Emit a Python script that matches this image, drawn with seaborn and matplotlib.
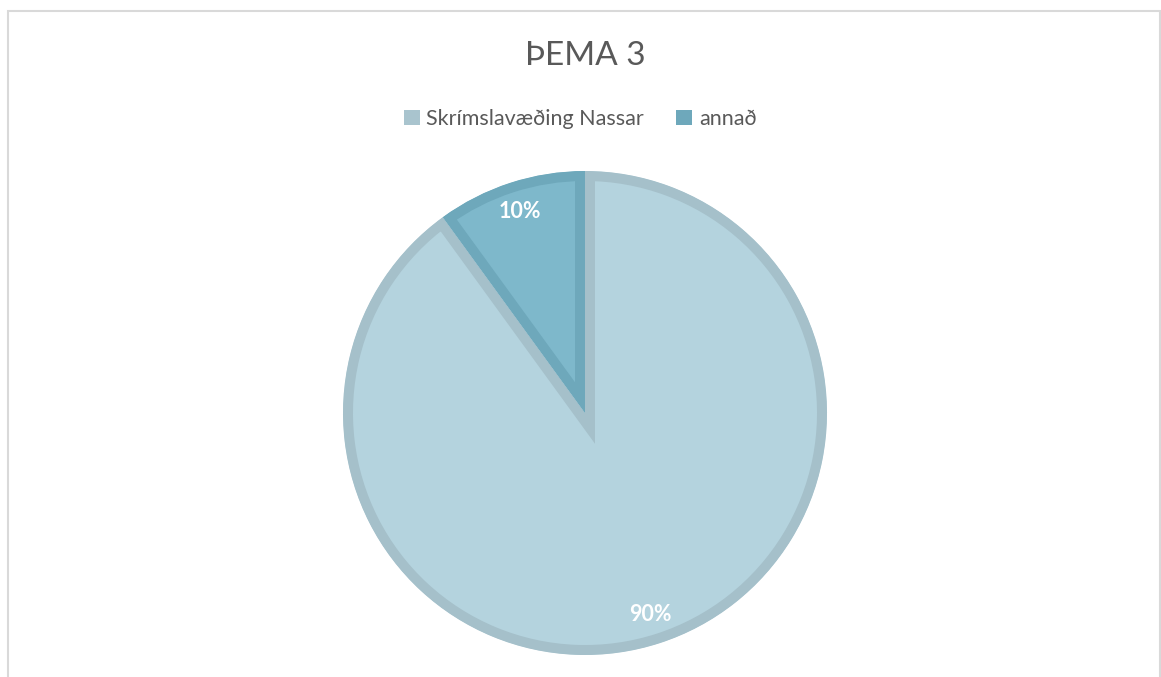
import matplotlib
matplotlib.use("Agg")
import matplotlib.pyplot as plt
import seaborn as sns
from matplotlib.patches import Patch, Rectangle

# ---- data ----
categories = ["Skrímslavæðing Nassar", "annað"]
values = [90, 10]
title = "ÞEMA 3"

fill_colors = ["#B4D3DE", "#7EB8CB"]
edge_colors = ["#A5C0CA", "#6EA8BB"]

sns.set_theme(style="white")
plt.rcParams["font.family"] = ["Lato", "DejaVu Sans"]

W, H, DPI = 1161, 677, 100
fig = plt.figure(figsize=(W / DPI, H / DPI), dpi=DPI)
fig.patch.set_facecolor("white")

# chart frame (bottom edge lies outside the picture)
fig.patches.append(Rectangle((8 / W, -0.05), (1160 - 8) / W, (H - 11) / H + 0.05,
                             transform=fig.transFigure, fill=False,
                             edgecolor="#D9D9D9", linewidth=1.5))

# pie axes: centre (585, 413) px, radius 242 px
cx, cy, r = 585, 413, 242
lim = 1.1
half = r * lim
ax = fig.add_axes([(cx - half) / W, (H - cy - half) / H, 2 * half / W, 2 * half / H])

wedges, _, autotexts = ax.pie(
    values, colors=fill_colors, startangle=90, counterclock=False,
    radius=1, pctdistance=0.875,
    autopct=lambda p: f"{p:.0f}%",
    textprops=dict(color="white", fontsize=15.5, fontweight="bold"),
)
ax.set_xlim(-lim, lim)
ax.set_ylim(-lim, lim)
ax.set_aspect("equal")
ax.axis("off")

# inner border: a doubled stroke clipped to the wedge itself
for w, ec in zip(wedges, edge_colors):
    w.set_edgecolor(ec)
    w.set_linewidth(20 * 72 / DPI)
    w.set_joinstyle("miter")
    w.set_clip_on(True)
    w.set_clip_path(w)

fig.text(cx / W, 1 - 56 / H, title, ha="center", va="center",
         fontsize=24, color="#595959")

handles = [Patch(facecolor=c, edgecolor="none") for c in ["#A9C4CE", "#6EA8BB"]]
leg = fig.legend(handles, categories, loc="center", bbox_to_anchor=(580 / W, 1 - 119 / H),
                 ncol=2, frameon=False, fontsize=15.5, handlelength=0.75, handleheight=0.75,
                 handletextpad=0.3, columnspacing=1.5, labelcolor="#595959")

fig.savefig("out.png", dpi=DPI, facecolor="white")
